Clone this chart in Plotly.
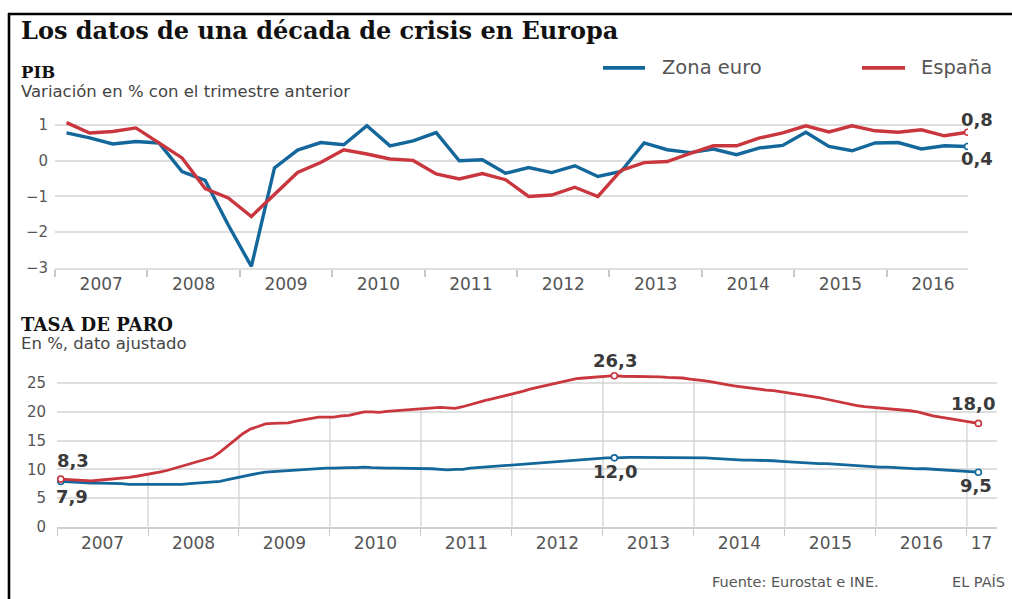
import plotly.graph_objects as go

# ---------------- DATA ----------------
years = list(range(2007, 2017))
year_labels = [str(y) for y in years]

# PIB: quarterly q/q variation (%), 2007Q1 .. 2016Q4
pib_espana = [1.07, 0.78, 0.82, 0.92,
              0.50, 0.08, -0.78, -1.04,
              -1.56, -0.95, -0.33, -0.05,
              0.31, 0.19, 0.05, 0.01,
              -0.37, -0.51, -0.36, -0.53,
              -1.00, -0.96, -0.74, -1.00,
              -0.27, -0.05, -0.02, 0.21,
              0.42, 0.42, 0.64, 0.78,
              0.98, 0.81, 0.98, 0.84,
              0.80, 0.87, 0.70, 0.80]
pib_euro = [0.78, 0.64, 0.47, 0.54,
            0.50, -0.30, -0.55, -1.80,
            -2.96, -0.20, 0.30, 0.51,
            0.45, 0.98, 0.42, 0.56,
            0.79, 0.00, 0.03, -0.35,
            -0.19, -0.33, -0.14, -0.44,
            -0.30, 0.50, 0.31, 0.23,
            0.33, 0.17, 0.36, 0.43,
            0.80, 0.40, 0.28, 0.50,
            0.51, 0.33, 0.42, 0.40]

# TASA DE PARO: monthly (%), Jan 2007 .. Feb 2017
paro_espana = [8.3, 8.2, 8.1, 8.0, 8.0, 8.1, 8.2, 8.3, 8.4, 8.6, 8.8, 9.0,        # 2007
               9.3, 9.5, 9.8, 10.2, 10.6, 10.9, 11.3, 11.7, 12.1, 13.0, 14.1, 15.1,  # 2008
               16.2, 17.0, 17.5, 17.9, 18.0, 18.0, 18.1, 18.4, 18.6, 18.8, 19.1, 19.1,  # 2009
               19.1, 19.3, 19.4, 19.7, 20.0, 20.0, 19.9, 20.1, 20.2, 20.3, 20.3, 20.4,  # 2010
               20.5, 20.6, 20.8, 20.7, 20.6, 20.9, 21.3, 21.7, 22.0, 22.3, 22.6, 22.9,  # 2011
               23.2, 23.6, 24.0, 24.3, 24.7, 25.0, 25.3, 25.6, 25.8, 25.9, 26.0, 26.2,  # 2012
               26.2, 26.3, 26.2, 26.2, 26.2, 26.2, 26.2, 26.1, 26.0, 26.0, 25.9, 25.7,  # 2013
               25.6, 25.4, 25.2, 24.9, 24.7, 24.5, 24.3, 24.2, 24.0, 23.8, 23.7, 23.5,  # 2014
               23.4, 23.1, 22.9, 22.7, 22.5, 22.2, 21.9, 21.6, 21.3, 21.1, 20.9, 20.8,  # 2015
               20.7, 20.5, 20.4, 20.3, 20.2, 20.0, 19.6, 19.3, 19.1, 18.9, 18.7, 18.5,  # 2016
               18.3, 18.0]                                                          # 2017
paro_euro = [7.9, 7.8, 7.7, 7.6, 7.6, 7.6, 7.6, 7.5, 7.5, 7.4, 7.4, 7.3,           # 2007
             7.3, 7.3, 7.3, 7.4, 7.4, 7.5, 7.6, 7.7, 7.8, 7.9, 8.2, 8.5,           # 2008
             8.8, 9.1, 9.3, 9.5, 9.6, 9.7, 9.8, 9.9, 10.0, 10.1, 10.1, 10.2,      # 2009
             10.2, 10.3, 10.3, 10.3, 10.4, 10.3, 10.2, 10.2, 10.2, 10.2, 10.2, 10.2,  # 2010
             10.2, 10.1, 10.0, 9.9, 10.0, 10.0, 10.2, 10.3, 10.4, 10.5, 10.7, 10.8,   # 2011
             10.9, 11.0, 11.1, 11.2, 11.3, 11.4, 11.5, 11.6, 11.7, 11.8, 11.9, 12.0,  # 2012
             12.0, 12.0, 12.1, 12.1, 12.1, 12.1, 12.1, 12.0, 12.0, 12.0, 12.0, 12.0,  # 2013
             12.0, 12.0, 11.9, 11.8, 11.7, 11.6, 11.6, 11.6, 11.6, 11.6, 11.5, 11.4,  # 2014
             11.3, 11.2, 11.2, 11.1, 11.0, 11.0, 10.9, 10.8, 10.7, 10.6, 10.5, 10.5,  # 2015
             10.4, 10.4, 10.3, 10.2, 10.2, 10.1, 10.1, 10.0, 9.9, 9.9, 9.8, 9.7,      # 2016
             9.6, 9.5]                                                              # 2017

series_names = ["Zona euro", "España"]

# ---------------- STYLE ----------------
BLUE = "#13679b"
RED = "#c9363d"
GRID = "#dedede"
TXT = "#555555"
LBL = "#3a3a3a"
SANS = "DejaVu Sans"
SERIF = "DejaVu Serif"
W, H = 1012, 599
KY = 599 / 591  # vertical correction observed in the rendered page


def px(x):
    return x / W


def py(y):
    return 1 - y * KY / H


def fmt(v):
    return f"{v:.1f}".replace(".", ",")


xq = [y + q / 4 + 0.125 for y in years for q in range(4)]
xm = [2007 + i / 12 + 1 / 24 for i in range(len(paro_espana))]

fig = go.Figure()

# ---- PIB ----
fig.add_trace(go.Scatter(x=xq, y=pib_euro, mode="lines", name=series_names[0],
                         line=dict(color=BLUE, width=3.4), xaxis="x", yaxis="y"))
fig.add_trace(go.Scatter(x=xq, y=pib_espana, mode="lines", name=series_names[1],
                         line=dict(color=RED, width=3.4), xaxis="x", yaxis="y"))
fig.add_trace(go.Scatter(x=[xq[-1], xq[-1]], y=[pib_euro[-1], pib_espana[-1]], mode="markers",
                         marker=dict(size=6, color="white", line=dict(color=[BLUE, RED], width=1.6)),
                         xaxis="x", yaxis="y"))

# ---- PARO ----
drop_x, drop_y = [], []
for yr in range(2008, 2018):
    i = (yr - 2007) * 12
    drop_x += [yr, yr, None]
    drop_y += [0, paro_espana[i], None]
fig.add_trace(go.Scatter(x=drop_x, y=drop_y, mode="lines", line=dict(color="#cfcfcf", width=1.2),
                         hoverinfo="skip", xaxis="x2", yaxis="y2"))
fig.add_trace(go.Scatter(x=xm, y=paro_euro, mode="lines", line=dict(color=BLUE, width=2.8),
                         xaxis="x2", yaxis="y2"))
fig.add_trace(go.Scatter(x=xm, y=paro_espana, mode="lines", line=dict(color=RED, width=2.8),
                         xaxis="x2", yaxis="y2"))
ipk = max(range(len(paro_espana)), key=lambda i: paro_espana[i])
mk_i = [0, ipk, len(xm) - 1]
fig.add_trace(go.Scatter(x=[xm[i] for i in mk_i] * 2,
                         y=[paro_euro[i] for i in mk_i] + [paro_espana[i] for i in mk_i],
                         mode="markers",
                         marker=dict(size=6, color="white",
                                     line=dict(color=[BLUE] * 3 + [RED] * 3, width=1.6)),
                         xaxis="x2", yaxis="y2"))

ann = []


def note(text, x, y, size, color=TXT, family=SANS, weight="normal", xanchor="left"):
    ann.append(dict(text=text, x=px(x), y=py(y), xref="paper", yref="paper", showarrow=False,
                    xanchor=xanchor, yanchor="middle",
                    font=dict(size=size, color=color, family=family, weight=weight)))


note("Los datos de una década de crisis en Europa", 19, 31, 24, "#111", SERIF, "bold")
note("PIB", 19, 72.5, 16.5, "#111", SERIF, "bold")
note("Variación en % con el trimestre anterior", 19, 92, 16.5, "#444")
note("TASA DE PARO", 19, 325, 18, "#111", SERIF, "bold")
note("En %, dato ajustado", 19, 344, 16.5, "#444")
note("Fuente: Eurostat e INE.", 710, 583, 14.5, TXT)
note("EL PAÍS", 950, 583, 14.5, TXT)

# legend (manual)
shapes = []
for name, col, x0, x1, xt in [(series_names[0], BLUE, 603, 645, 660),
                              (series_names[1], RED, 862, 905, 919)]:
    shapes.append(dict(type="line", xref="paper", yref="paper", x0=px(x0), x1=px(x1),
                       y0=py(68), y1=py(68), line=dict(color=col, width=3.6)))
    note(name, xt, 68, 19.5, TXT)


def vlabel(x, y, text, xs, ys, axis):
    ann.append(dict(text=text, x=x, y=y, xref="x" + axis, yref="y" + axis, showarrow=False,
                    xanchor="center", yanchor="middle", xshift=xs, yshift=ys,
                    font=dict(size=18, color=LBL, family=SANS, weight="bold")))


vlabel(xq[-1], pib_espana[-1], fmt(pib_espana[-1]), 9, 13, "")
vlabel(xq[-1], pib_euro[-1], fmt(pib_euro[-1]), 9, -12, "")
vlabel(xm[0], paro_espana[0], fmt(paro_espana[0]), 12, 19, "2")
vlabel(xm[0], paro_euro[0], fmt(paro_euro[0]), 11, -15, "2")
vlabel(xm[ipk], paro_espana[ipk], fmt(paro_espana[ipk]), 1, 15, "2")
vlabel(xm[ipk], paro_euro[ipk], fmt(paro_euro[ipk]), 1, -14, "2")
vlabel(xm[-1], paro_espana[-1], fmt(paro_espana[-1]), -5, 20, "2")
vlabel(xm[-1], paro_euro[-1], fmt(paro_euro[-1]), -2, -13, "2")

shapes += [
    dict(type="line", xref="x", yref="y", x0=2007, x1=2016.65, y0=0, y1=0,
         line=dict(color="#a8a8a8", width=1.8), layer="below"),
    dict(type="line", xref="paper", yref="paper", x0=px(9), x1=px(9), y0=py(640), y1=py(13),
         line=dict(color="black", width=2.6)),
    dict(type="line", xref="paper", yref="paper", x0=px(8), x1=px(1030), y0=py(14), y1=py(14),
         line=dict(color="black", width=2.6)),
]

tickf_x = dict(size=17, color=TXT, family=SANS)
tickf_y = dict(size=15, color=TXT, family=SANS)

fig.update_layout(
    width=W, height=H, margin=dict(l=0, r=0, t=0, b=0),
    paper_bgcolor="white", plot_bgcolor="white",
    separators=",.",
    hovermode=False,
    showlegend=False,
    xaxis=dict(domain=[px(55), px(968)], range=[2007, 2016.88], anchor="y",
               tickmode="array", tickvals=[y + 0.5 for y in years], ticktext=year_labels,
               ticks="", showgrid=False, zeroline=False, showline=True,
               linecolor=GRID, linewidth=1.5, tickfont=tickf_x,
               minor=dict(tickmode="array", tickvals=years, ticks="outside", ticklen=7,
                          tickwidth=1.5, tickcolor="#c8c8c8", showgrid=False)),
    yaxis=dict(domain=[py(268.3), py(111)], range=[-3, 1.4], anchor="x",
               tickmode="array", tickvals=[-3, -2, -1, 0, 1],
               showgrid=True, gridcolor=GRID, gridwidth=1.5, zeroline=False,
               ticks="", ticklabelstandoff=6, tickfont=tickf_y),
    xaxis2=dict(domain=[px(57), px(997)], range=[2007, 2017.33], anchor="y2",
                tickmode="array", tickvals=[y + 0.5 for y in years] + [2017.16],
                ticktext=year_labels + ["17"],
                ticks="", showgrid=False, zeroline=False, showline=True,
                linecolor="#cfcfcf", linewidth=1.5, tickfont=tickf_x,
                minor=dict(tickmode="array", tickvals=list(range(2007, 2018)), ticks="outside",
                           ticklen=7, tickwidth=1.2, tickcolor="#c8c8c8", showgrid=False)),
    yaxis2=dict(domain=[py(527.7), py(370)], range=[0, 27.4], anchor="x2",
                tickmode="array", tickvals=[0, 5, 10, 15, 20, 25],
                showgrid=True, gridcolor=GRID, gridwidth=1.5, zeroline=False,
                ticks="", ticklabelstandoff=10, tickfont=tickf_y),
    annotations=ann,
    shapes=shapes,
)

fig.write_html("out.html", config={"displayModeBar": False},
               post_script="document.body.style.margin='0px';document.body.style.overflow='hidden';")
